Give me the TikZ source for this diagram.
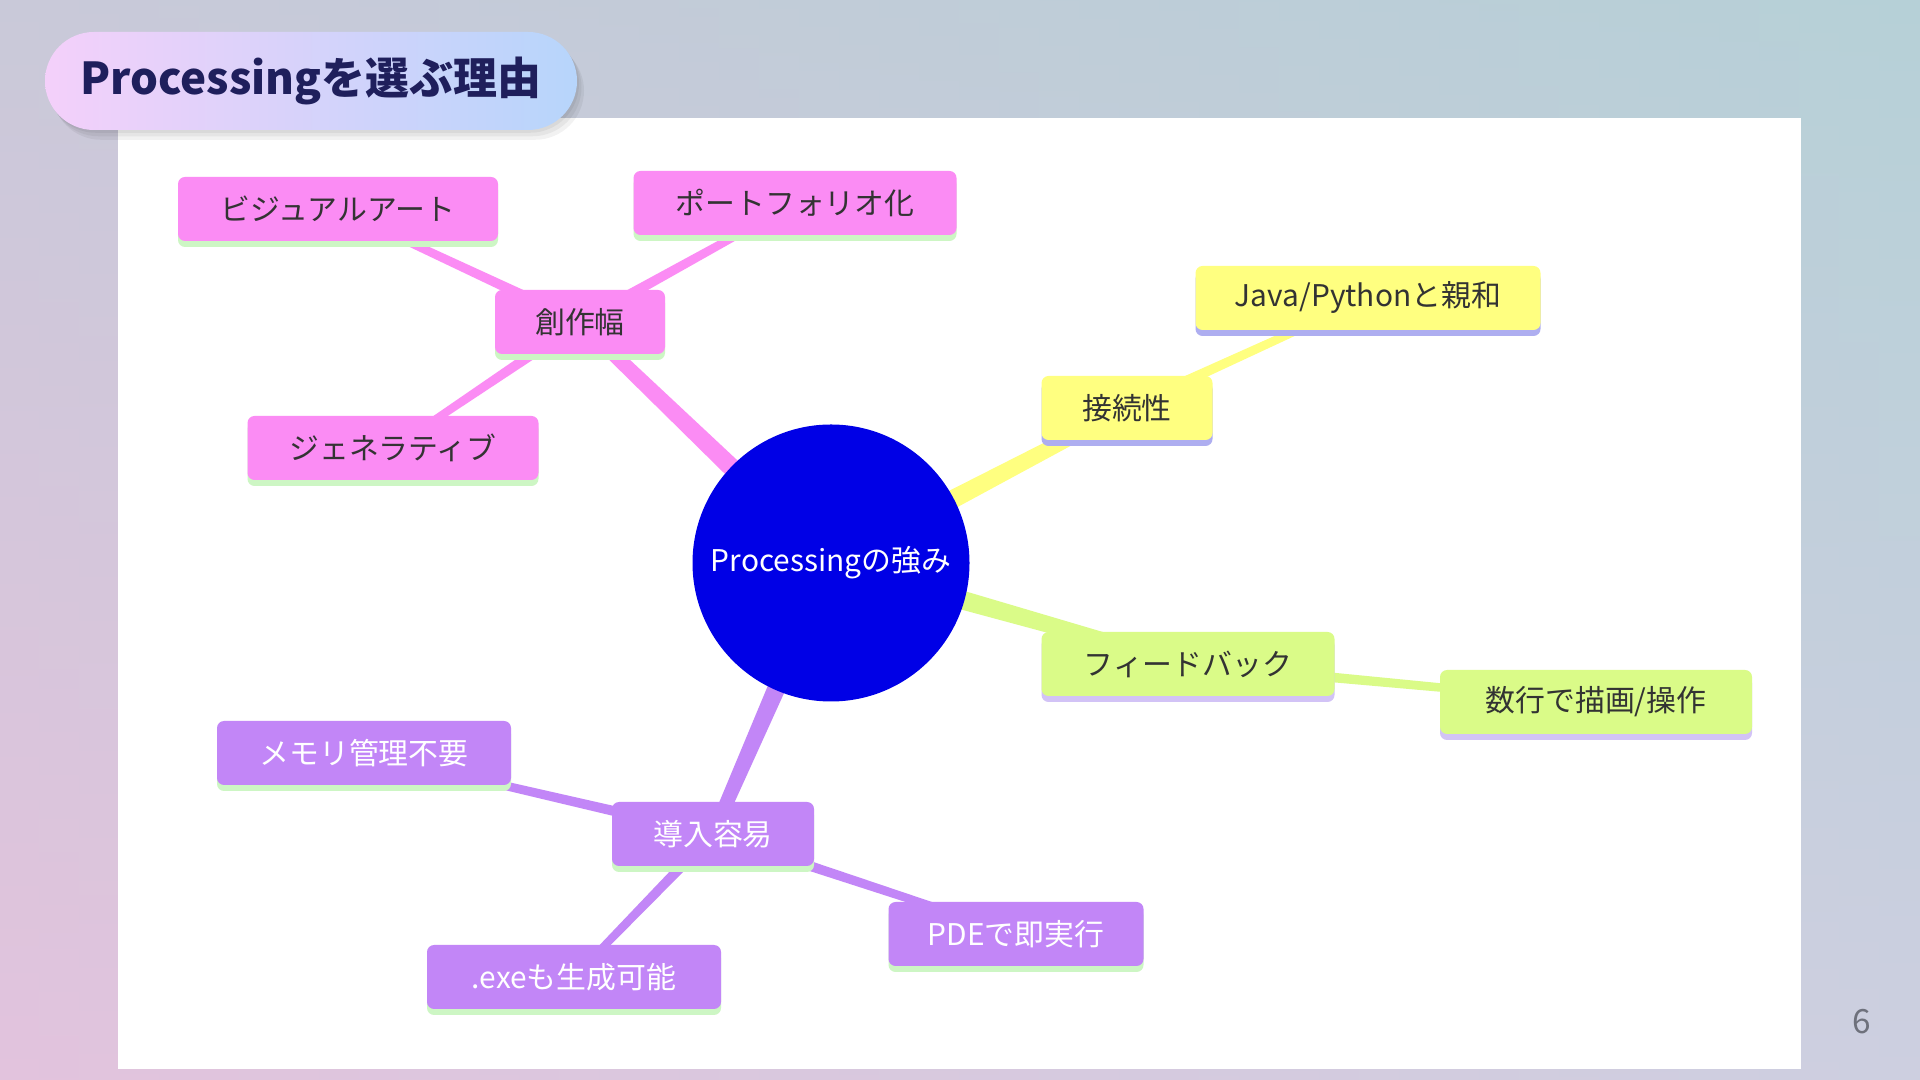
\documentclass[tikz,border=0pt]{standalone}
\usepackage{fontspec}
\setmainfont{Noto Sans CJK JP}
\usetikzlibrary{calc,shadows}

\definecolor{bgtl}{HTML}{C9C9D9}
\definecolor{bgtr}{HTML}{B6D0D7}
\definecolor{bgbl}{HTML}{E2C3DD}
\definecolor{bgbr}{HTML}{CDCFE0}
\definecolor{pillleft}{HTML}{F4D0FA}
\definecolor{pillright}{HTML}{B7D5FB}
\definecolor{titleink}{HTML}{1F1F5C}
\definecolor{hubblue}{HTML}{0000E6}
\definecolor{pinkfill}{HTML}{FB8CF4}
\definecolor{yellowfill}{HTML}{FFFF80}
\definecolor{greenfill}{HTML}{DAFB88}
\definecolor{purplefill}{HTML}{C286F7}
\definecolor{stripgreen}{HTML}{CDF6C4}
\definecolor{stripblue}{HTML}{AEAEF0}
\definecolor{striplilac}{HTML}{D2C3F6}
\definecolor{nodeink}{HTML}{333333}
\definecolor{pageink}{HTML}{6E717C}

\pgfdeclarelayer{bg}
\pgfdeclarelayer{links}
\pgfsetlayers{bg,links,main}

% tapered connector: colour, from, to, half width at start, half width at end
\newcommand{\limb}[5]{%
  \fill[#1] ($(#2)!#4!90:(#3)$) -- ($(#3)!#5!-90:(#2)$)
    -- ($(#3)!#5!90:(#2)$) -- ($(#2)!#4!-90:(#3)$) -- cycle;}

\tikzset{
  leaf/.style={rectangle, rounded corners=2pt, minimum height=0.64cm,
    inner sep=0pt, text=nodeink, font=\fontsize{8.5}{10}\selectfont},
  pinkbox/.style={leaf, fill=pinkfill,
    general shadow={fill=stripgreen, shadow xshift=0pt, shadow yshift=-0.6mm}},
  yellowbox/.style={leaf, fill=yellowfill,
    general shadow={fill=stripblue, shadow xshift=0pt, shadow yshift=-0.6mm}},
  greenbox/.style={leaf, fill=greenfill,
    general shadow={fill=striplilac, shadow xshift=0pt, shadow yshift=-0.6mm}},
  purplebox/.style={leaf, fill=purplefill, text=white,
    general shadow={fill=stripgreen, shadow xshift=0pt, shadow yshift=-0.6mm}},
  softshadow/.style={general shadow={fill=black, opacity=0.05,
    shadow xshift=#1, shadow yshift=-1.4*#1}},
}

\begin{document}
\begin{tikzpicture}
	\useasboundingbox (0,0) rectangle (19.2,10.8);
	\begin{pgfonlayer}{bg}
		% background: vertical strips, colours mixed left to right
		\foreach \i in {0,...,47} {
			\pgfmathsetmacro{\p}{100*\i/47}
			\shade[top color=bgtr!\p!bgtl, bottom color=bgbr!\p!bgbl]
				(0.4*\i-0.01,0) rectangle (0.4*\i+0.41,10.8);
		}
		\fill[white] (1.18,0.11) rectangle (18.01,9.62);
	\end{pgfonlayer}

	% title and page number
	\node[rounded corners=0.49cm, minimum width=5.32cm, minimum height=0.98cm,
		softshadow=0.2mm, softshadow=0.45mm, softshadow=0.7mm,
		left color=pillleft, right color=pillright,
		text=titleink, font=\fontsize{12.5}{14}\selectfont\bfseries]
		(title) at (3.11,9.99) {Processingを選ぶ理由};
	\node[text=pageink, font=\fontsize{9.5}{11}\selectfont] (page) at (18.62,0.58) {6};

	% centre
	\node[circle, fill=hubblue, minimum size=2.77cm, inner sep=0pt, text=white,
		font=\fontsize{8.5}{10}\selectfont] (hub) at (8.31,5.17) {Processingの強み};

	% 創作幅
	\node[pinkbox, minimum width=1.70cm] (craft) at (5.80,7.58) {創作幅};
	\node[pinkbox, minimum width=3.20cm] (visual) at (3.38,8.71) {ビジュアルアート};
	\node[pinkbox, minimum width=3.23cm] (folio) at (7.95,8.77) {ポートフォリオ化};
	\node[pinkbox, minimum width=2.91cm] (gen) at (3.93,6.32) {ジェネラティブ};

	% 接続性
	\node[yellowbox, minimum width=1.71cm] (link) at (11.27,6.72) {接続性};
	\node[yellowbox, minimum width=3.45cm] (java) at (13.68,7.82) {Java/Pythonと親和};

	% フィードバック
	\node[greenbox, minimum width=2.93cm] (feed) at (11.88,4.16) {フィードバック};
	\node[greenbox, minimum width=3.12cm] (few) at (15.96,3.78) {数行で描画/操作};

	% 導入容易
	\node[purplebox, minimum width=2.02cm] (ease) at (7.13,2.46) {導入容易};
	\node[purplebox, minimum width=2.94cm] (memory) at (3.64,3.27) {メモリ管理不要};
	\node[purplebox, minimum width=2.94cm] (exe) at (5.74,1.03) {.exeも生成可能};
	\node[purplebox, minimum width=2.55cm] (pde) at (10.16,1.46) {PDEで即実行};

	\begin{pgfonlayer}{links}
		\limb{pinkfill}{hub}{craft}{0.11cm}{0.065cm}
		\limb{pinkfill}{craft}{visual}{0.055cm}{0.035cm}
		\limb{pinkfill}{craft}{folio}{0.055cm}{0.035cm}
		\limb{pinkfill}{craft}{gen}{0.055cm}{0.035cm}
		\limb{yellowfill}{hub}{link}{0.11cm}{0.065cm}
		\limb{yellowfill}{link}{java}{0.055cm}{0.035cm}
		\limb{greenfill}{hub}{feed}{0.11cm}{0.065cm}
		\limb{greenfill}{feed}{few}{0.055cm}{0.035cm}
		\limb{purplefill}{hub}{ease}{0.11cm}{0.065cm}
		\limb{purplefill}{ease}{memory}{0.055cm}{0.035cm}
		\limb{purplefill}{ease}{exe}{0.055cm}{0.035cm}
		\limb{purplefill}{ease}{pde}{0.055cm}{0.035cm}
	\end{pgfonlayer}
\end{tikzpicture}
\end{document}
